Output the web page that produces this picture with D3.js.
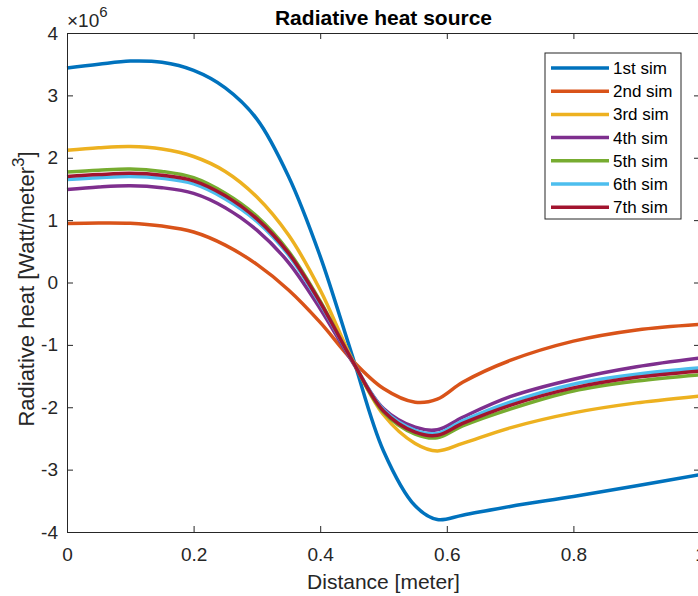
<!DOCTYPE html>
<html>
<head>
<meta charset="utf-8">
<script src="https://cdn.jsdelivr.net/npm/d3@7"></script>
<style>
  body { margin: 0; background: #fff; }
  svg { display: block; font-family: "Liberation Sans", Arial, sans-serif; }
</style>
</head>
<body>
<svg id="chart" width="698" height="596"></svg>
<script>
// distance along the domain [meter]
var distance = [0, 0.05, 0.1, 0.15, 0.2, 0.25, 0.3, 0.35, 0.4, 0.45, 0.5, 0.55, 0.585, 0.625, 0.7, 0.8, 0.9, 1.0];

// radiative heat, units of 1e6 W/m^3
var sim1 = [3.44, 3.50, 3.55, 3.53, 3.40, 3.12, 2.62, 1.70, 0.42, -1.15, -2.70, -3.58, -3.80, -3.73, -3.59, -3.43, -3.26, -3.08];
var sim2 = [0.945, 0.955, 0.95, 0.905, 0.81, 0.60, 0.29, -0.12, -0.64, -1.24, -1.70, -1.92, -1.87, -1.60, -1.25, -0.94, -0.76, -0.67];
var sim3 = [2.12, 2.16, 2.18, 2.14, 2.02, 1.78, 1.37, 0.76, -0.12, -1.22, -2.12, -2.58, -2.70, -2.58, -2.33, -2.09, -1.93, -1.82];
var sim4 = [1.49, 1.53, 1.55, 1.52, 1.43, 1.20, 0.84, 0.32, -0.42, -1.26, -2.02, -2.32, -2.36, -2.16, -1.83, -1.55, -1.35, -1.21];
var sim5 = [1.77, 1.80, 1.82, 1.78, 1.68, 1.43, 1.06, 0.50, -0.30, -1.24, -2.08, -2.43, -2.49, -2.30, -2.03, -1.74, -1.58, -1.48];
var sim6 = [1.65, 1.68, 1.70, 1.67, 1.58, 1.34, 0.98, 0.44, -0.34, -1.24, -2.04, -2.37, -2.42, -2.22, -1.92, -1.63, -1.47, -1.37];
var sim7 = [1.70, 1.73, 1.75, 1.72, 1.63, 1.39, 1.02, 0.47, -0.32, -1.24, -2.06, -2.40, -2.45, -2.26, -1.97, -1.69, -1.52, -1.42];

var seriesNames = ["1st sim", "2nd sim", "3rd sim", "4th sim", "5th sim", "6th sim", "7th sim"];
var seriesColors = ["#0072BD", "#D95319", "#EDB120", "#7E2F8E", "#77AC30", "#4DBEEE", "#A2142F"];

var xTicks = [0, 0.2, 0.4, 0.6, 0.8, 1];
var yTicks = [-4, -3, -2, -1, 0, 1, 2, 3, 4];

var allSims = [sim1, sim2, sim3, sim4, sim5, sim6, sim7];

var axisColor = "#262626";
// (window.top is reserved, so plot edges get their own names)
var plotLeft = 67, plotRight = 700, plotTop = 33, plotBottom = 532;

var svg = d3.select("#chart");

var x = d3.scaleLinear().domain([0, 1]).range([plotLeft, plotRight]);
var y = d3.scaleLinear().domain([-4, 4]).range([plotBottom, plotTop]);

// lines first, axes drawn over them like matlab does
var line = d3.line()
    .x(function (d) { return x(d[0]); })
    .y(function (d) { return y(d[1]); })
    .curve(d3.curveCatmullRom.alpha(0.5));

svg.append("g")
    .selectAll("path")
    .data(allSims)
    .enter()
    .append("path")
    .attr("fill", "none")
    .attr("stroke", function (d, i) { return seriesColors[i]; })
    .attr("stroke-width", 3.5)
    .attr("stroke-linejoin", "round")
    .attr("d", function (vals) {
        return line(vals.map(function (v, j) { return [distance[j], v]; }));
    });

function styleAxis(g) {
    g.selectAll("path, line").attr("stroke", axisColor);
    g.selectAll("text").attr("fill", axisColor).style("font-size", "19px");
}

svg.append("g")
    .attr("transform", "translate(0," + plotBottom + ")")
    .call(d3.axisBottom(x).tickValues(xTicks).tickFormat(function (d) { return String(d); })
        .tickSizeInner(-6).tickSizeOuter(0).tickPadding(16))
    .call(styleAxis);

svg.append("g")
    .attr("transform", "translate(0," + plotTop + ")")
    .call(d3.axisTop(x).tickValues(xTicks).tickFormat("")
        .tickSizeInner(-6).tickSizeOuter(0))
    .call(styleAxis);

svg.append("g")
    .attr("transform", "translate(" + plotLeft + ",0)")
    .call(d3.axisLeft(y).tickValues(yTicks).tickFormat(function (d) { return String(d); })
        .tickSizeInner(-6).tickSizeOuter(0).tickPadding(9))
    .call(styleAxis);

svg.append("g")
    .attr("transform", "translate(" + plotRight + ",0)")
    .call(d3.axisRight(y).tickValues(yTicks).tickFormat("")
        .tickSizeInner(-6).tickSizeOuter(0))
    .call(styleAxis);

// exponent label
var expo = svg.append("text")
    .attr("x", 67)
    .attr("y", 27)
    .attr("fill", axisColor)
    .style("font-size", "19px");
expo.append("tspan").text("\u00d710");
expo.append("tspan").attr("dy", -10).style("font-size", "15px").text("6");

// title
svg.append("text")
    .attr("x", (plotLeft + plotRight) / 2)
    .attr("y", 25)
    .attr("text-anchor", "middle")
    .attr("fill", "#000")
    .style("font-size", "21px")
    .style("font-weight", "bold")
    .text("Radiative heat source");

// x label
svg.append("text")
    .attr("x", (plotLeft + plotRight) / 2)
    .attr("y", 589)
    .attr("text-anchor", "middle")
    .attr("fill", axisColor)
    .style("font-size", "21px")
    .text("Distance [meter]");

// y label with superscript
var ylab = svg.append("text")
    .attr("transform", "translate(34,289) rotate(-90)")
    .attr("text-anchor", "middle")
    .attr("fill", axisColor)
    .style("font-size", "22px");
ylab.append("tspan").text("Radiative heat [Watt/meter");
ylab.append("tspan").attr("dy", -10).style("font-size", "17px").text("3");
ylab.append("tspan").attr("dy", 10).text("]");

// legend
var legend = svg.append("g").attr("transform", "translate(545,53)");
legend.append("rect")
    .attr("width", 136)
    .attr("height", 166)
    .attr("fill", "#fff")
    .attr("stroke", axisColor)
    .attr("stroke-width", 1);

var item = legend.selectAll("g.item")
    .data(seriesNames)
    .enter()
    .append("g")
    .attr("class", "item")
    .attr("transform", function (d, i) { return "translate(0," + (15 + i * 23.2) + ")"; });

item.append("line")
    .attr("x1", 6).attr("x2", 64)
    .attr("stroke", function (d, i) { return seriesColors[i]; })
    .attr("stroke-width", 3.5);

item.append("text")
    .attr("x", 68)
    .attr("dy", "0.35em")
    .attr("fill", "#000")
    .style("font-size", "17px")
    .text(function (d) { return d; });
</script>
</body>
</html>
